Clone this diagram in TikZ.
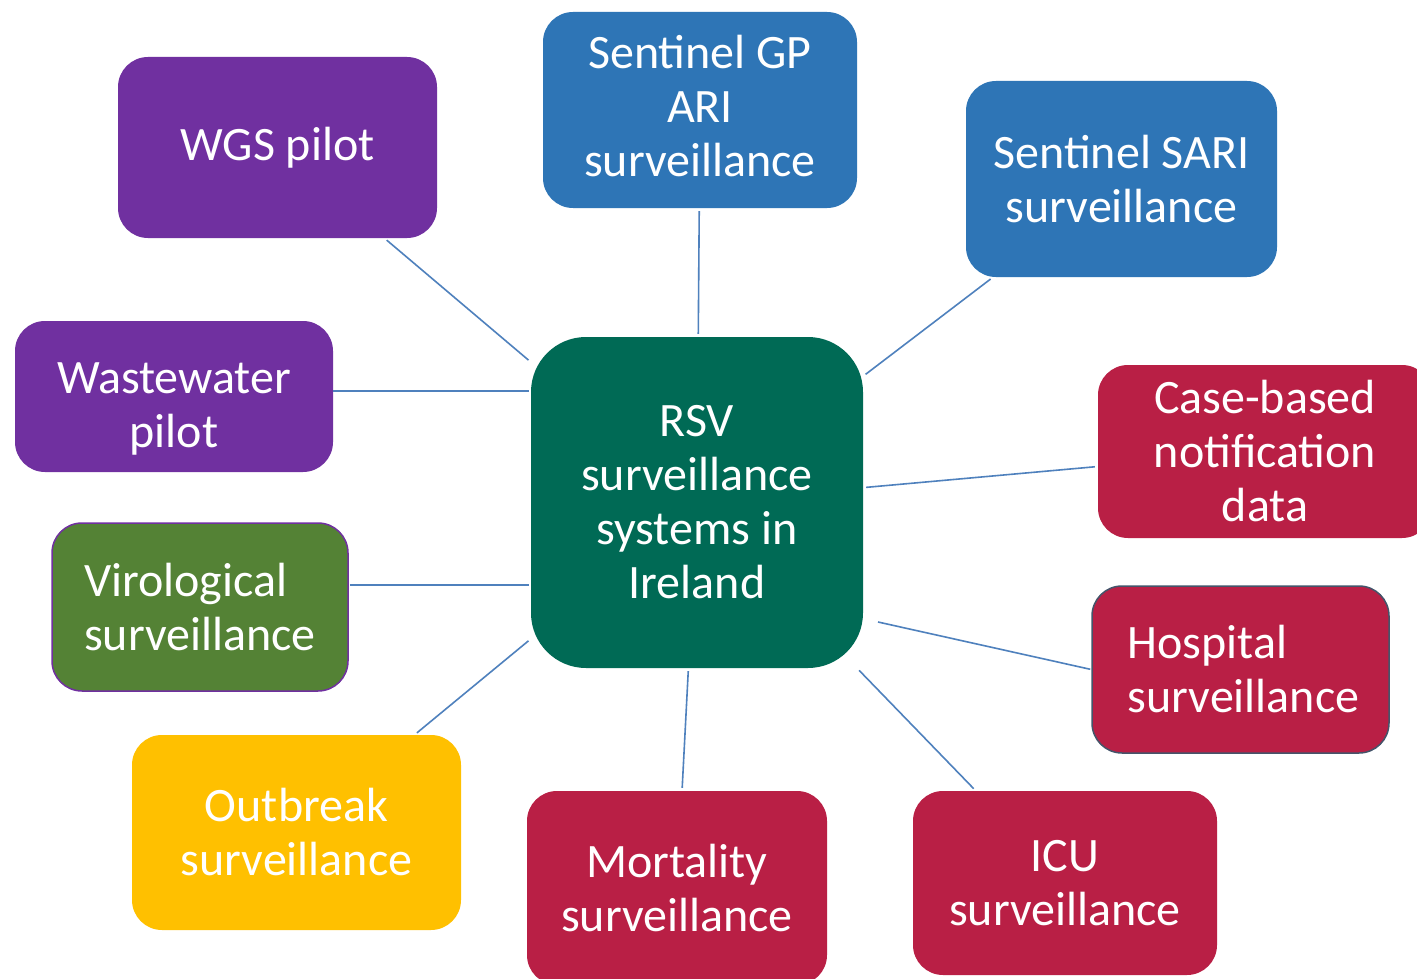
\documentclass[tikz,border=0pt]{standalone}
\usepackage{fontspec}
\setmainfont{Carlito}
\definecolor{cPurple}{HTML}{7030A0}
\definecolor{cBlue}{HTML}{2E75B6}
\definecolor{cRed}{HTML}{B91F45}
\definecolor{cGreen}{HTML}{548235}
\definecolor{cYellow}{HTML}{FFC000}
\definecolor{cHub}{HTML}{006A55}
\definecolor{cLink}{HTML}{4F81BD}
\definecolor{cSlate}{HTML}{44546A}
% shift a centred block of lines vertically without changing its box
\newcommand{\shiftlines}[2]{\raisebox{#1}[\height][\depth]{\begin{tabular}{@{}c@{}}#2\end{tabular}}}
\begin{document}
\begin{tikzpicture}[x=1pt,y=-1pt,
  box/.style={rectangle, rounded corners=30pt, draw=none, text=white,
    align=center, inner sep=0pt,
    font=\fontsize{48}{54}\selectfont},
  link/.style={draw=cLink, line width=1.6pt, shorten <=3pt, shorten >=3pt}]
  \fill[white] (0,0) rectangle (1417,979);
  \clip (0,0) rectangle (1417,979);

  % hub
  \node[box, fill=cHub, rounded corners=55pt, minimum width=332pt, minimum height=331pt]
    (c) at (697,502.5) {RSV\\surveillance\\systems in\\Ireland};

  % surrounding systems
  \node[box, fill=cPurple, minimum width=319pt, minimum height=181pt]
    (wgs) at (277.5,147.5) {WGS pilot};
  \node[box, fill=cBlue, minimum width=314pt, minimum height=196pt]
    (gp) at (700,110) {\shiftlines{-2pt}{Sentinel GP\\ARI\\surveillance}};
  \node[box, fill=cBlue, minimum width=311pt, minimum height=196pt]
    (sari) at (1121.5,179) {Sentinel SARI\\surveillance};
  \node[box, fill=cRed, minimum width=334pt, minimum height=173pt]
    (case) at (1265,451.5) {Case-based\\notification\\data};
  \node[box, fill=cRed, draw=cSlate, line width=1.5pt, align=left,
    minimum width=297pt, minimum height=167pt]
    (hosp) at (1240.5,669.5) {\hspace*{6pt}Hospital\\\hspace*{6pt}surveillance};
  \node[box, fill=cRed, minimum width=304pt, minimum height=184pt]
    (icu) at (1065,883) {ICU\\surveillance};
  \node[box, fill=cRed, minimum width=300pt, minimum height=194pt]
    (mort) at (677,888) {Mortality\\surveillance};
  \node[box, fill=cYellow, minimum width=329pt, minimum height=195pt]
    (outb) at (296.5,832.5) {Outbreak\\surveillance};
  \node[box, fill=cGreen, draw=cPurple, line width=1.5pt, align=left,
    minimum width=296pt, minimum height=168pt]
    (viro) at (200,607) {Virological\\surveillance};
  \node[box, fill=cPurple, minimum width=318pt, minimum height=151pt]
    (wst) at (174,396.5) {\shiftlines{-13pt}{Wastewater\\pilot}};

  % connectors
  \coordinate (hospEnd) at (878,622);
  \draw[link] (wgs) -- (c);
  \draw[link] (gp) -- (c);
  \draw[link] (sari) -- (c);
  \draw[link] (case) -- (c);
  \draw[link, shorten <=1pt, shorten >=0pt] (hosp.west) -- (hospEnd);
  \draw[link] (icu) -- (c);
  \draw[link] (mort) -- (c);
  \draw[link] (outb) -- (c);
  \draw[link, shorten <=1pt, shorten >=2pt] ([yshift=22pt]viro.east) -- ([yshift=22pt]viro.east -| c.west);
  \draw[link, shorten <=0pt, shorten >=2pt] ([yshift=5.5pt]wst.east) -- ([yshift=5.5pt]wst.east -| c.west);
\end{tikzpicture}
\end{document}
